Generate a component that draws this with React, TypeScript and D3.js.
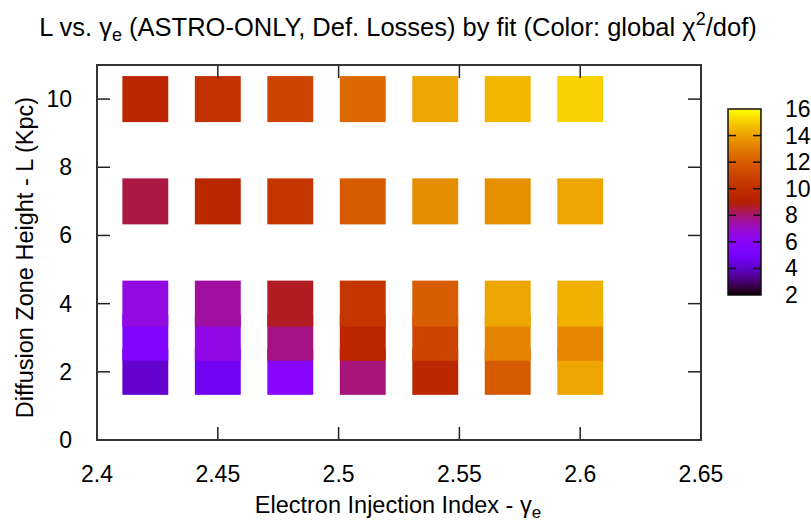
import React from 'react';
import { scaleLinear, range } from 'd3';

const width = 811;
const height = 523;

// plot frame
const left = 97;
const right = 701;
const top = 65;
const bottom = 440;

// colour box
const cbLeft = 728;
const cbRight = 761;
const cbTop = 109;
const cbBottom = 295;

const gammaValues = [2.42, 2.45, 2.48, 2.51, 2.54, 2.57, 2.6];
const heightValues = [2, 3, 4, 7, 10];

// global chi2/dof, one row per L value, one entry per gamma
const chiL2 = [4.1, 4.85, 5.9, 7.9, 9.5, 11.9, 14.1];
const chiL3 = [5.5, 6.5, 7.8, 9.4, 11.0, 13.2, 13.3];
const chiL4 = [6.6, 7.5, 8.7, 10.3, 12.0, 14.1, 14.4];
const chiL7 = [8.4, 9.4, 10.3, 11.9, 13.5, 13.6, 14.1];
const chiL10 = [9.4, 10.1, 11.0, 12.4, 14.1, 14.5, 15.1];
const chiRows = [chiL2, chiL3, chiL4, chiL7, chiL10];

const xTicks = [2.4, 2.45, 2.5, 2.55, 2.6, 2.65];
const yTicks = [0, 2, 4, 6, 8, 10];
const cbTicks = [2, 4, 6, 8, 10, 12, 14, 16];

const x = scaleLinear().domain([2.4, 2.65]).range([left, right]);
const y = scaleLinear().domain([0, 11]).range([bottom, top]);
const cb = scaleLinear().domain([2, 16]).range([cbBottom, cbTop]);

// gnuplot default palette, rgbformulae 7,5,15
const palette = (t: number) => {
    const c = Math.max(0, Math.min(1, t));
    const r = Math.sqrt(c);
    const g = c * c * c;
    const b = Math.max(0, Math.sin(2 * Math.PI * c));
    return `rgb(${Math.round(r * 255)},${Math.round(g * 255)},${Math.round(b * 255)})`;
};
const colorOf = (v: number) => palette((v - 2) / 14);

const halfW = 0.0095;
const halfH = 0.675;

const cells = heightValues.flatMap((L, i) =>
    gammaValues.map((g, j) => ({ g, L, v: chiRows[i][j] }))
);

const font = 'Liberation Sans, Arial, Helvetica, sans-serif';
const tickLen = 13;

export default function App() {
    const fmt = (d: number) => String(d);

    return (
        <svg width={width} height={height} style={{ display: 'block', position: 'absolute', left: 0, top: 0 }}
            fontFamily={font}>
            <defs>
                <linearGradient id="cbGrad" x1="0" y1="1" x2="0" y2="0">
                    {range(0, 101).map(i => (
                        <stop key={i} offset={`${i}%`} stopColor={palette(i / 100)} />
                    ))}
                </linearGradient>
            </defs>
            <rect width={width} height={height} fill="#fff" />

            <text x={398} y={36} fontSize={25.5} textAnchor="middle" fill="#000">
                L vs. γ<tspan fontSize={18} dy={5}>e</tspan>
                <tspan dy={-5}> (ASTRO-ONLY, Def. Losses) by fit (Color: global χ</tspan>
                <tspan fontSize={18} dy={-11}>2</tspan>
                <tspan dy={11}>/dof)</tspan>
            </text>

            {cells.map((d, i) => (
                <rect key={i}
                    x={x(d.g - halfW)} y={y(d.L + halfH)}
                    width={x(d.g + halfW) - x(d.g - halfW)}
                    height={y(d.L - halfH) - y(d.L + halfH)}
                    fill={colorOf(d.v)} />
            ))}

            {/* ticks, mirrored on all sides */}
            <g stroke="#222" strokeWidth={1.5}>
                {xTicks.slice(1, -1).map(t => (
                    <g key={t}>
                        <line x1={x(t)} x2={x(t)} y1={bottom} y2={bottom - tickLen} />
                        <line x1={x(t)} x2={x(t)} y1={top} y2={top + tickLen} />
                    </g>
                ))}
                {yTicks.slice(1).map(t => (
                    <g key={t}>
                        <line x1={left} x2={left + tickLen} y1={y(t)} y2={y(t)} />
                        <line x1={right} x2={right - tickLen} y1={y(t)} y2={y(t)} />
                    </g>
                ))}
            </g>
            <rect x={left} y={top} width={right - left} height={bottom - top}
                fill="none" stroke="#333" strokeWidth={2} />

            {xTicks.map(t => (
                <text key={t} x={x(t)} y={482} fontSize={23} textAnchor="middle">{fmt(t)}</text>
            ))}
            {yTicks.map(t => (
                <text key={t} x={72} y={y(t) + 8} fontSize={23} textAnchor="end">{fmt(t)}</text>
            ))}

            <text x={398} y={513} fontSize={23.5} textAnchor="middle">
                Electron Injection Index - γ<tspan fontSize={17} dy={5}>e</tspan>
            </text>
            <text transform={`translate(33,${(top + bottom) / 2 + 5}) rotate(-90)`} fontSize={23.5} textAnchor="middle">
                Diffusion Zone Height - L (Kpc)
            </text>

            {/* colour box */}
            <rect x={cbLeft} y={cbTop} width={cbRight - cbLeft} height={cbBottom - cbTop} fill="url(#cbGrad)" />
            <g stroke="#111" strokeWidth={1.5}>
                {cbTicks.slice(1, -1).map(t => (
                    <g key={t}>
                        <line x1={cbLeft} x2={cbLeft + 8} y1={cb(t)} y2={cb(t)} />
                        <line x1={cbRight} x2={cbRight - 8} y1={cb(t)} y2={cb(t)} />
                    </g>
                ))}
            </g>
            <rect x={cbLeft} y={cbTop} width={cbRight - cbLeft} height={cbBottom - cbTop}
                fill="none" stroke="#111" strokeWidth={1.5} />
            {cbTicks.map(t => (
                <text key={t} x={785} y={cb(t) + 8} fontSize={23} textAnchor="start">{t}</text>
            ))}
        </svg>
    );
}
